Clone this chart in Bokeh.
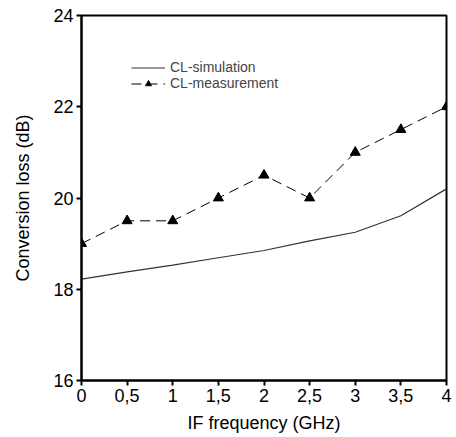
from bokeh.plotting import figure
from bokeh.models import Legend, LegendItem, FixedTicker, Range1d
from bokeh.embed import file_html
from bokeh.resources import INLINE

freq = [0, 0.5, 1, 1.5, 2, 2.5, 3, 3.5, 4]
cl_sim = [18.22, 18.38, 18.53, 18.69, 18.85, 19.06, 19.25, 19.61, 20.2]
cl_meas = [19.0, 19.5, 19.5, 20.0, 20.5, 20.0, 21.0, 21.5, 22.0]
x_ticks = [0, 0.5, 1, 1.5, 2, 2.5, 3, 3.5, 4]
x_labels = ["0", "0,5", "1", "1,5", "2", "2,5", "3", "3,5", "4"]
y_ticks = [16, 18, 20, 22, 24]

FONT = "Liberation Sans"

p = figure(width=456, height=437, output_backend="svg", toolbar_location=None,
           x_range=Range1d(0, 4), y_range=Range1d(16, 24),
           min_border_left=81, min_border_right=10, min_border_top=15, min_border_bottom=57)
p.grid.visible = False
p.outline_line_color = "black"
p.outline_line_width = 2
p.background_fill_color = "white"
p.border_fill_color = "white"

r_sim = p.line(freq, cl_sim, line_color="#333333", line_width=1.2)
r_meas = p.line(freq, cl_meas, line_color="black", line_width=1, line_dash="10 6")
r_mk = p.scatter(freq, cl_meas, marker="triangle", size=10, fill_color="black", line_color="black")

for ax in (p.xaxis[0], p.yaxis[0]):
    ax.axis_line_width = 2
    ax.major_tick_line_width = 2
    ax.major_tick_out = 5
    ax.major_tick_in = 0
    ax.minor_tick_line_color = None
    ax.major_label_text_font = FONT
    ax.major_label_text_font_size = "18px"
    ax.major_label_text_color = "black"
    ax.axis_label_text_font = FONT
    ax.axis_label_text_font_size = "18px"
    ax.axis_label_text_font_style = "normal"
    ax.axis_label_text_color = "black"

p.xaxis.ticker = FixedTicker(ticks=x_ticks)
p.xaxis.major_label_overrides = {t: l for t, l in zip(x_ticks, x_labels)}
p.xaxis.axis_label = "IF frequency (GHz)"
p.xaxis.major_label_standoff = 3
p.xaxis.axis_label_standoff = 8
p.yaxis.ticker = FixedTicker(ticks=y_ticks)
p.yaxis.axis_label = "Conversion loss (dB)"
p.yaxis.major_label_standoff = 3
p.yaxis.axis_label_standoff = 17

legend = Legend(items=[LegendItem(label="CL-simulation", renderers=[r_sim]),
                       LegendItem(label="CL-measurement", renderers=[r_meas, r_mk])],
                location=(50, 289), border_line_color=None, background_fill_alpha=0,
                padding=0, margin=0, spacing=0, glyph_width=34, glyph_height=15,
                label_height=15, label_standoff=5,
                label_text_font=FONT, label_text_font_size="14px")
p.add_layout(legend)

open("out.html", "w").write(file_html(p, INLINE))
